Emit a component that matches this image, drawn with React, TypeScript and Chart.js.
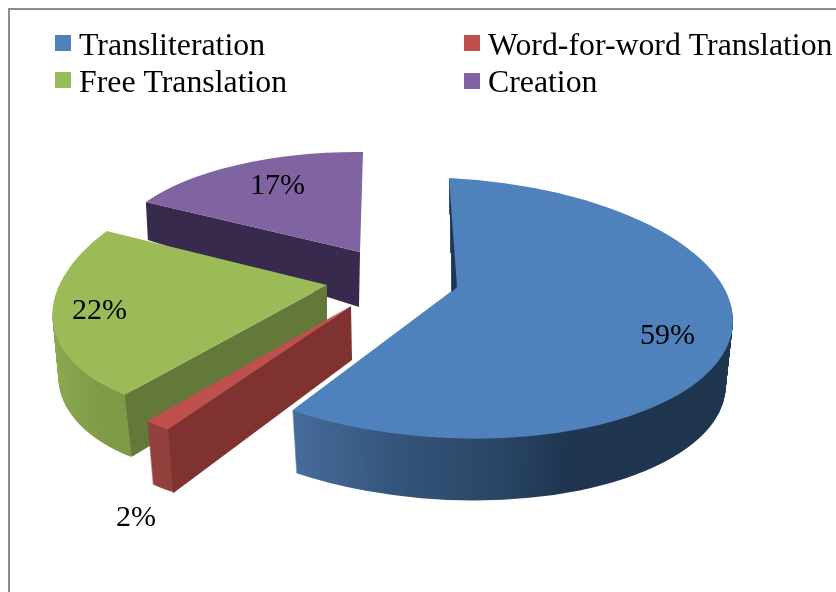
import React, { useEffect, useRef } from "react";
import { Chart, registerables } from "chart.js";

Chart.register(...registerables);

const categories = ["Transliteration", "Word-for-word Translation", "Free Translation", "Creation"];
const values = [59, 2, 22, 17];
const faceColors = ["#4f81bd", "#c0504d", "#9bbb59", "#8064a2"];
const wallColors = ["#1f3550", "#7f322f", "#64783a", "#382a4c"];
const drawOrder = [3, 2, 1, 0];

const FONT = '"Liberation Serif", "Times New Roman", serif';
const legendSpots = [[55, 35, 79, 55], [464, 35, 488, 55], [55, 72, 79, 92], [464, 73, 488, 92]];
const labelSpots = [[640, 344], [116, 526], [72, 319], [250, 194]];

type Place = {
  ex: number; ey: number; a: number; m: number; k: number; b: number;
  depth: number[]; scale: number;
  rim: [number, string][];
  rimMaxX?: number;
  wall?: { rimD: number[]; apexD: number[] };
  apex?: number[];
  notch?: number[];
};

const places: Place[] = [
  { ex: 447, ey: 308, a: 286, m: 13.5, k: -2, b: 130, depth: [0, 65], scale: 0.975,
    rim: [[293, "#466c9c"], [400, "#345479"], [500, "#2a4666"], [570, "#1f3550"], [733, "#20364f"]],
    apex: [457, 287], notch: [452, 292] },
  { ex: 351, ey: 306, a: 250, m: -19, k: -58, b: 134, depth: [5.5, 63], scale: 1, rimMaxX: 176,
    rim: [[147, "#98403e"], [175, "#93403d"]],
    wall: { rimD: [5, 64], apexD: [1, 54] } },
  { ex: 327, ey: 285, a: 272, m: -11.6, k: -37.5, b: 133, depth: [6, 62], scale: 1, rimMaxX: 135,
    rim: [[52, "#8cab50"], [130, "#7d9a46"]],
    wall: { rimD: [7, 62], apexD: [0, 55] } },
  { ex: 360, ey: 252, a: 246, m: 2, k: -3, b: 100, depth: [0, 0], scale: 1,
    rim: [[146, "#382a4c"], [360, "#382a4c"]],
    wall: { rimD: [2, 38], apexD: [-1, 55] } },
];

function trace(ctx: CanvasRenderingContext2D, pts: number[][]) {
  ctx.beginPath();
  pts.forEach((p, i) => (i ? ctx.lineTo(p[0], p[1]) : ctx.moveTo(p[0], p[1])));
  ctx.closePath();
}

function poly(ctx: CanvasRenderingContext2D, pts: number[][], fill: string) {
  trace(ctx, pts);
  ctx.fillStyle = fill;
  ctx.fill();
}

const pie3d = {
  id: "pie3d",
  beforeDraw(chart: any) {
    const ctx = chart.ctx;
    ctx.save();
    ctx.fillStyle = "#ffffff";
    ctx.fillRect(0, 0, chart.width, chart.height);
    ctx.strokeStyle = "#8c8c8c";
    ctx.lineWidth = 2;
    ctx.strokeRect(9, 9, 900, 700);
    ctx.restore();
  },
  beforeDatasetsDraw(chart: any) {
    const ctx: CanvasRenderingContext2D = chart.ctx;
    const arcs = chart.getDatasetMeta(0).data;

    const paint = (arc: any, p: Place, dx: number, dy: number, s: number, fill: any) => {
      const R = arc.outerRadius;
      const saved = arc.options;
      arc.options = Object.assign(Object.create(saved), { backgroundColor: fill, borderWidth: 0 });
      ctx.save();
      ctx.transform((p.a * s) / R, (p.m * s) / R, (p.k * s) / R, (p.b * s) / R, p.ex + dx, p.ey + dy);
      ctx.translate(-arc.x, -arc.y);
      arc.draw(ctx);
      ctx.restore();
      arc.options = saved;
    };

    const rimPoint = (p: Place, angle: number) => [
      p.ex + p.a * Math.cos(angle) + p.k * Math.sin(angle),
      p.ey + p.m * Math.cos(angle) + p.b * Math.sin(angle),
    ];

    drawOrder.forEach((i) => {
      const arc = arcs[i];
      const p = places[i];
      const R = arc.outerRadius;
      const toLocal = (sx: number) => arc.x + ((sx - p.ex) * R) / p.a;
      const x0 = p.rim[0][0];
      const x1 = p.rim[p.rim.length - 1][0];
      const grad = ctx.createLinearGradient(toLocal(x0), 0, toLocal(x1), 0);
      p.rim.forEach(([x, c]) => grad.addColorStop((x - x0) / (x1 - x0), c));

      const startRim = rimPoint(p, arc.startAngle);
      const endRim = rimPoint(p, arc.endAngle);

      ctx.save();
      if (p.notch) {
        const slope = (endRim[1] - p.notch[1]) / (endRim[0] - p.notch[0]);
        const farX = endRim[0] - 12;
        trace(ctx, [
          startRim,
          p.notch,
          [farX, p.notch[1] + slope * (farX - p.notch[0])],
          [farX, chart.height],
          [chart.width, chart.height],
          [chart.width, 0],
          [startRim[0], 0],
        ]);
        ctx.clip();
      }
      ctx.save();
      if (p.rimMaxX) {
        ctx.beginPath();
        ctx.rect(0, 0, p.rimMaxX, chart.height);
        ctx.clip();
      }
      const steps = Math.ceil(p.depth[1]);
      for (let t = steps; t > 0; t--) {
        const f = t / steps;
        paint(arc, p, p.depth[0] * f, p.depth[1] * f, 1 - (1 - p.scale) * f, grad);
      }
      ctx.restore();

      if (p.wall) {
        const { rimD, apexD } = p.wall;
        poly(ctx, [
          [p.ex, p.ey],
          startRim,
          [startRim[0] + rimD[0], startRim[1] + rimD[1]],
          [p.ex + apexD[0], p.ey + apexD[1]],
        ], wallColors[i]);
      }

      paint(arc, p, 0, 0, 1, faceColors[i]);
      ctx.restore();

      if (p.apex && p.notch) {
        poly(ctx, [p.apex, endRim, [p.ex + 10, p.ey + 15]], faceColors[i]);
        poly(ctx, [startRim, p.apex, p.notch], wallColors[i]);
      }
    });

    ctx.save();
    ctx.fillStyle = "#000000";
    ctx.textAlign = "left";
    ctx.textBaseline = "alphabetic";
    ctx.font = `30px ${FONT}`;
    values.forEach((v, i) => ctx.fillText(`${v}%`, labelSpots[i][0], labelSpots[i][1]));
    ctx.font = `31.8px ${FONT}`;
    categories.forEach((c, i) => {
      const [sx, sy, tx, ty] = legendSpots[i];
      ctx.fillStyle = faceColors[i];
      ctx.fillRect(sx, sy, 16, 16);
      ctx.fillStyle = "#000000";
      ctx.fillText(c, tx, ty);
    });
    ctx.restore();
    return false;
  },
};

export default function App() {
  const ref = useRef<HTMLCanvasElement>(null);
  useEffect(() => {
    const chart = new Chart(ref.current as HTMLCanvasElement, {
      type: "pie",
      data: {
        labels: categories,
        datasets: [{ data: values, backgroundColor: faceColors, borderWidth: 0 }],
      },
      options: {
        animation: false,
        responsive: false,
        plugins: { legend: { display: false }, tooltip: { enabled: false } },
      },
      plugins: [pie3d],
    } as any);
    return () => chart.destroy();
  }, []);
  return (
    <canvas
      ref={ref}
      width={836}
      height={592}
      style={{ position: "fixed", left: 0, top: 0, display: "block" }}
    />
  );
}
